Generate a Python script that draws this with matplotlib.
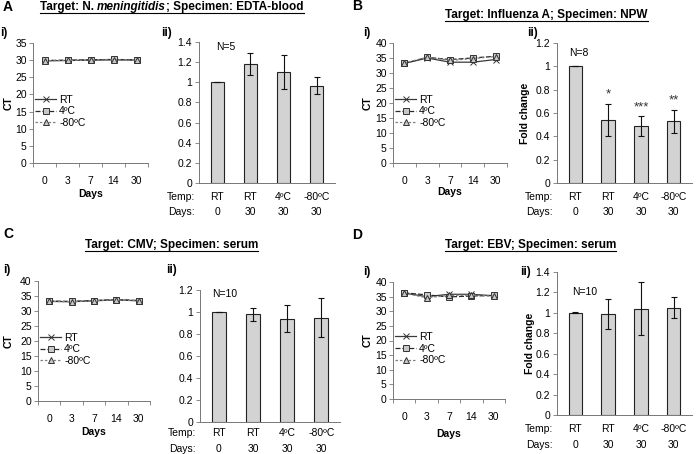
import matplotlib
matplotlib.use("Agg")
import matplotlib.pyplot as plt
from matplotlib.transforms import blended_transform_factory
from matplotlib.lines import Line2D
from matplotlib.ticker import FuncFormatter

plt.rcParams['font.family'] = ['Liberation Sans', 'DejaVu Sans']

W, H = 700, 454
FS = 7.5

# ---------------- data ----------------
days = ['0', '3', '7', '14', '30']
series = ['RT', '4ºC', '-80ºC']
temps = ['RT', 'RT', '4ºC', '-80ºC']
bar_days = ['0', '30', '30', '30']

ct_A = {'RT': [29.8, 29.9, 30.0, 30.1, 30.0],
        '4ºC': [29.9, 30.0, 30.1, 30.2, 30.1],
        '-80ºC': [29.8, 29.9, 30.0, 30.1, 30.0]}
ct_B = {'RT': [33.2, 35.0, 33.6, 33.6, 34.5],
        '4ºC': [33.2, 35.2, 34.5, 35.0, 35.6],
        '-80ºC': [33.3, 35.3, 34.2, 34.8, 35.5]}
ct_C = {'RT': [33.2, 33.1, 33.4, 33.7, 33.4],
        '4ºC': [33.3, 33.2, 33.5, 33.8, 33.5],
        '-80ºC': [33.2, 33.1, 33.4, 33.7, 33.4]}
ct_D = {'RT': [36.2, 35.0, 35.8, 35.8, 35.3],
        '4ºC': [36.3, 35.6, 34.9, 35.2, 35.4],
        '-80ºC': [36.2, 34.6, 35.4, 35.5, 35.2]}

fc_A = [1.0, 1.18, 1.10, 0.965]
err_A = [0.0, 0.11, 0.17, 0.085]
fc_B = [1.0, 0.54, 0.49, 0.53]
err_B = [0.0, 0.14, 0.085, 0.10]
fc_C = [1.0, 0.98, 0.94, 0.95]
err_C = [0.0, 0.06, 0.12, 0.18]
fc_D = [1.0, 0.99, 1.04, 1.05]
err_D = [0.005, 0.15, 0.26, 0.105]
stars_B = ['', '*', '***', '**']

fig = plt.figure(figsize=(7, 4.54), dpi=100)
rend = fig.canvas.get_renderer()


def fy(y):
    return 1 - y / H


def add_ax(l, t, r, b):
    return fig.add_axes([l / W, 1 - b / H, (r - l) / W, (b - t) / H])


def ftext(x, y, s, **kw):
    kw.setdefault('fontsize', FS)
    kw.setdefault('va', 'center')
    return fig.text(x / W, fy(y), s, **kw)


styles = {'RT': dict(marker='x', ls='-', color='#3a3a3a'),
          '4ºC': dict(marker='s', ls=(0, (4, 1.5)), color='#2a2a2a'),
          '-80ºC': dict(marker='^', ls=(0, (2, 1.5)), color='#808080')}


def line_panel(box, data, ymax, ylab_x, days_y):
    ax = add_ax(*box)
    x = range(len(days))
    for s in series:
        st = styles[s]
        ax.plot(x, data[s], marker=st['marker'], ls=st['ls'], color=st['color'],
                lw=0.9, ms=4, mfc='#c8c8c8', mec='#333333', mew=0.7, label=s)
    ax.set_xlim(-0.5, 4.5)
    ax.set_ylim(0, ymax)
    ax.set_yticks(range(0, ymax + 1, 5))
    ax.set_xticks(list(x))
    ax.set_xticklabels(days)
    ax.set_xticks([i - 0.5 for i in range(6)], minor=True)
    ax.tick_params(axis='x', which='major', length=0, pad=9, labelsize=FS)
    ax.tick_params(axis='x', which='minor', length=3, width=0.6, direction='out', color='#777777')
    ax.tick_params(axis='y', length=3, width=0.6, pad=1.5, labelsize=FS, color='#777777')
    for sp in ['top', 'right']:
        ax.spines[sp].set_visible(False)
    for sp in ['left', 'bottom']:
        ax.spines[sp].set_linewidth(0.7)
        ax.spines[sp].set_color('#777777')
    ax.legend(loc='center left', bbox_to_anchor=(0.0, 0.43), frameon=False,
              fontsize=FS, handlelength=2.0, handletextpad=0.3,
              labelspacing=0.15, borderaxespad=0.2, borderpad=0)
    ftext(ylab_x, (box[1] + box[3]) / 2, 'CT', fontweight='bold', rotation=90, ha='center')
    ftext((box[0] + box[2]) / 2, days_y, 'Days', fontweight='bold', ha='center')
    return ax


def bar_panel(box, vals, errs, ymax, row_y, ylab_x=None, stars=None):
    ax = add_ax(*box)
    x = list(range(len(vals)))
    ax.bar(x, vals, width=0.4, color='#d3d3d3', edgecolor='#222222', linewidth=0.8)
    ax.errorbar(x, vals, yerr=errs, fmt='none', ecolor='#111111', elinewidth=0.8,
                capsize=2.5, capthick=0.8)
    ax.set_xlim(-0.55, 3.55)
    ax.set_ylim(0, ymax)
    ticks = [round(i * 0.2, 1) for i in range(int(round(ymax / 0.2)) + 1)]
    ax.set_yticks(ticks)
    ax.yaxis.set_major_formatter(FuncFormatter(lambda v, p: '%g' % round(v, 1)))
    ax.set_xticks([])
    ax.tick_params(axis='y', length=3, width=0.6, pad=2, labelsize=FS, color='#777777')
    for sp in ['top', 'right']:
        ax.spines[sp].set_visible(False)
    for sp in ['left', 'bottom']:
        ax.spines[sp].set_linewidth(0.7)
        ax.spines[sp].set_color('#777777')
    tr = blended_transform_factory(ax.transData, fig.transFigure)
    for i in x:
        ax.text(i, fy(row_y[0]), temps[i], transform=tr, ha='center', va='center', fontsize=FS)
        ax.text(i, fy(row_y[1]), bar_days[i], transform=tr, ha='center', va='center', fontsize=FS)
    ftext(box[0] - 4, row_y[0], 'Temp:', ha='right')
    ftext(box[0] - 4, row_y[1], 'Days:', ha='right')
    if ylab_x is not None:
        ftext(ylab_x, (box[1] + box[3]) / 2, 'Fold change', fontweight='bold',
              rotation=90, ha='center')
    if stars:
        for i, s in enumerate(stars):
            if s:
                ax.text(i, vals[i] + errs[i] + 0.02 * ymax, s, ha='center', va='bottom',
                        fontsize=9.5, color='#333333')
    return ax


def title(x, y, parts, size=8.5):
    x0 = x
    for s, st in parts:
        t = ftext(x, y, s, fontweight='bold', style=st, ha='left', fontsize=size)
        x += t.get_window_extent(rend).width
    fig.add_artist(Line2D([x0 / W, x / W], [fy(y + 6), fy(y + 6)], lw=0.8, color='black'))


# ---------------- panel A ----------------
ftext(3, 7, 'A', fontweight='bold', fontsize=10, ha='left')
title(40, 7, [('Target: N. ', 'normal'), ('meningitidis', 'italic'),
              ('; Specimen: EDTA-blood', 'normal')])
ftext(0, 33, 'i)', fontweight='bold', fontsize=8.5, ha='left')
ftext(161, 33, 'ii)', fontweight='bold', fontsize=8.5, ha='left')
line_panel((33, 43, 148, 163), ct_A, 35, 9, 194)
bar_panel((199, 42, 335, 183), fc_A, err_A, 1.4, (197, 212))
ftext(226, 47, 'N=5', ha='center')

# ---------------- panel B ----------------
ftext(352, 6, 'B', fontweight='bold', fontsize=10, ha='left')
title(445, 15, [('Target: Influenza A; Specimen: NPW', 'normal')])
ftext(363, 33, 'i)', fontweight='bold', fontsize=8.5, ha='left')
ftext(527, 33, 'ii)', fontweight='bold', fontsize=8.5, ha='left')
line_panel((393, 43, 507, 163), ct_B, 40, 368, 192)
bar_panel((557, 43, 692, 183), fc_B, err_B, 1.2, (197, 212), ylab_x=525, stars=stars_B)
ftext(579, 53, 'N=8', ha='center')

# ---------------- panel C ----------------
ftext(3, 234, 'C', fontweight='bold', fontsize=10, ha='left')
title(85, 245, [('Target: CMV; Specimen: serum', 'normal')])
ftext(3, 270, 'i)', fontweight='bold', fontsize=8.5, ha='left')
ftext(166, 270, 'ii)', fontweight='bold', fontsize=8.5, ha='left')
line_panel((38, 281, 150, 401), ct_C, 40, 9, 432)
bar_panel((200, 290, 340, 422), fc_C, err_C, 1.2, (433, 449))
ftext(225, 294, 'N=10', ha='center')

# ---------------- panel D ----------------
ftext(352, 235, 'D', fontweight='bold', fontsize=10, ha='left')
title(445, 245, [('Target: EBV; Specimen: serum', 'normal')])
ftext(363, 272, 'i)', fontweight='bold', fontsize=8.5, ha='left')
ftext(520, 272, 'ii)', fontweight='bold', fontsize=8.5, ha='left')
line_panel((393, 282, 505, 399), ct_D, 40, 368, 434)
bar_panel((557, 272, 692, 415), fc_D, err_D, 1.4, (429, 445), ylab_x=530)
ftext(585, 292, 'N=10', ha='center')

fig.savefig('out.png', dpi=100)
